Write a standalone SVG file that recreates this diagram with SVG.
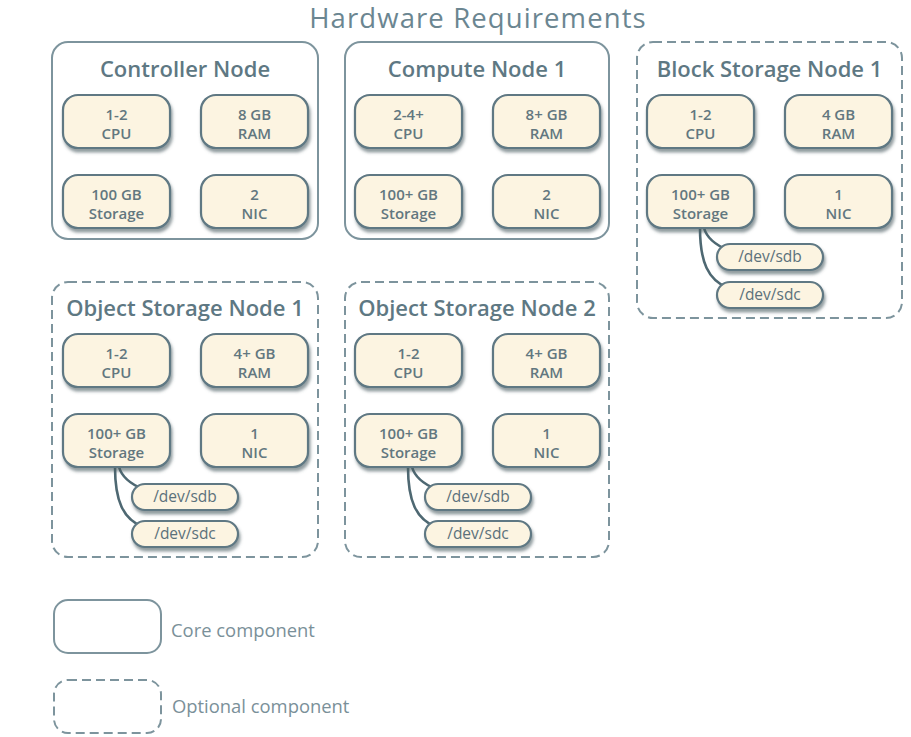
<svg xmlns="http://www.w3.org/2000/svg" width="911" height="737" viewBox="0 0 911 737">
<defs>
<filter id="sh" x="-20%" y="-20%" width="140%" height="160%">
<feDropShadow dx="1.5" dy="3.5" stdDeviation="1.8" flood-color="#4a5a60" flood-opacity="0.6"/>
</filter>
<style>
.core{fill:none;stroke:#7d949d;stroke-width:2}
.opt{fill:none;stroke:#7d949d;stroke-width:2;stroke-dasharray:9 5}
.box{fill:#fcf4e1;stroke:#5f7883;stroke-width:2.2;filter:url(#sh)}
.pill{fill:#fcf4e1;stroke:#5f7883;stroke-width:2.2;filter:url(#sh)}
.ttl{font-family:"Open Sans","Liberation Sans",sans-serif;font-size:22px;font-weight:600;fill:#5e7883;text-anchor:middle}
.lbl{font-family:"Open Sans","Liberation Sans",sans-serif;font-size:15px;font-weight:600;fill:#62777f;text-anchor:middle}
.dev{font-family:"Open Sans","Liberation Sans",sans-serif;font-size:15.5px;fill:#5b717b;text-anchor:middle}
.leg{font-family:"Open Sans","Liberation Sans",sans-serif;font-size:18.4px;fill:#7a9099}
.conn{fill:none;stroke:#4e6872;stroke-width:2.6}
</style>
</defs>
<rect width="911" height="737" fill="#ffffff"/>
<text x="478" y="28" font-family="'Open Sans','Liberation Sans',sans-serif" font-size="27.5" letter-spacing="1.1" fill="#6b8691" text-anchor="middle">Hardware Requirements</text>

<g id="connectors">
<path class="conn" d="M704 228 Q708 242 728 250"/>
<path class="conn" d="M700 228 C700 262 708 280 728 288"/>
<path class="conn" d="M119 467 Q123 481 143 489"/>
<path class="conn" d="M115 467 C115 501 123 519 143 527"/>
<path class="conn" d="M412 467 Q416 481 436 489"/>
<path class="conn" d="M408 467 C408 501 416 519 436 527"/>
</g>

<g id="controller">
<rect class="core" x="52" y="42" width="266" height="197" rx="16"/>
<text class="ttl" x="185" y="77">Controller Node</text>
<rect class="box" x="63" y="95" width="107" height="53" rx="15"/>
<text class="lbl" x="116.5" y="120">1-2</text><text class="lbl" x="116.5" y="139">CPU</text>
<rect class="box" x="201" y="95" width="107" height="53" rx="15"/>
<text class="lbl" x="254.5" y="120">8 GB</text><text class="lbl" x="254.5" y="139">RAM</text>
<rect class="box" x="63" y="175" width="107" height="53" rx="15"/>
<text class="lbl" x="116.5" y="200">100 GB</text><text class="lbl" x="116.5" y="219">Storage</text>
<rect class="box" x="201" y="175" width="107" height="53" rx="15"/>
<text class="lbl" x="254.5" y="200">2</text><text class="lbl" x="254.5" y="219">NIC</text>
</g>

<g id="compute1">
<rect class="core" x="345" y="42" width="264" height="197" rx="16"/>
<text class="ttl" x="477" y="77">Compute Node 1</text>
<rect class="box" x="355" y="95" width="107" height="53" rx="15"/>
<text class="lbl" x="408.5" y="120">2-4+</text><text class="lbl" x="408.5" y="139">CPU</text>
<rect class="box" x="493" y="95" width="107" height="53" rx="15"/>
<text class="lbl" x="546.5" y="120">8+ GB</text><text class="lbl" x="546.5" y="139">RAM</text>
<rect class="box" x="355" y="175" width="107" height="53" rx="15"/>
<text class="lbl" x="408.5" y="200">100+ GB</text><text class="lbl" x="408.5" y="219">Storage</text>
<rect class="box" x="493" y="175" width="107" height="53" rx="15"/>
<text class="lbl" x="546.5" y="200">2</text><text class="lbl" x="546.5" y="219">NIC</text>
</g>

<g id="block1">
<rect class="opt" x="637" y="42" width="265" height="276" rx="16"/>
<text class="ttl" x="769.5" y="77">Block Storage Node 1</text>
<rect class="box" x="647" y="95" width="107" height="53" rx="15"/>
<text class="lbl" x="700.5" y="120">1-2</text><text class="lbl" x="700.5" y="139">CPU</text>
<rect class="box" x="785" y="95" width="107" height="53" rx="15"/>
<text class="lbl" x="838.5" y="120">4 GB</text><text class="lbl" x="838.5" y="139">RAM</text>
<rect class="box" x="647" y="175" width="107" height="53" rx="15"/>
<text class="lbl" x="700.5" y="200">100+ GB</text><text class="lbl" x="700.5" y="219">Storage</text>
<rect class="box" x="785" y="175" width="107" height="53" rx="15"/>
<text class="lbl" x="838.5" y="200">1</text><text class="lbl" x="838.5" y="219">NIC</text>
<rect class="pill" x="717" y="244" width="106" height="26" rx="13"/>
<text class="dev" x="770" y="262">/dev/sdb</text>
<rect class="pill" x="717" y="282" width="106" height="26" rx="13"/>
<text class="dev" x="770" y="300">/dev/sdc</text>
</g>

<g id="object1">
<rect class="opt" x="52" y="282" width="266" height="275" rx="16"/>
<text class="ttl" x="185" y="316">Object Storage Node 1</text>
<rect class="box" x="63" y="334" width="107" height="53" rx="15"/>
<text class="lbl" x="116.5" y="359">1-2</text><text class="lbl" x="116.5" y="378">CPU</text>
<rect class="box" x="201" y="334" width="107" height="53" rx="15"/>
<text class="lbl" x="254.5" y="359">4+ GB</text><text class="lbl" x="254.5" y="378">RAM</text>
<rect class="box" x="63" y="414" width="107" height="53" rx="15"/>
<text class="lbl" x="116.5" y="439">100+ GB</text><text class="lbl" x="116.5" y="458">Storage</text>
<rect class="box" x="201" y="414" width="107" height="53" rx="15"/>
<text class="lbl" x="254.5" y="439">1</text><text class="lbl" x="254.5" y="458">NIC</text>
<rect class="pill" x="132" y="484" width="106" height="26" rx="13"/>
<text class="dev" x="185" y="502">/dev/sdb</text>
<rect class="pill" x="132" y="521" width="106" height="26" rx="13"/>
<text class="dev" x="185" y="539">/dev/sdc</text>
</g>

<g id="object2">
<rect class="opt" x="345" y="282" width="264" height="275" rx="16"/>
<text class="ttl" x="477" y="316">Object Storage Node 2</text>
<rect class="box" x="355" y="334" width="107" height="53" rx="15"/>
<text class="lbl" x="408.5" y="359">1-2</text><text class="lbl" x="408.5" y="378">CPU</text>
<rect class="box" x="493" y="334" width="107" height="53" rx="15"/>
<text class="lbl" x="546.5" y="359">4+ GB</text><text class="lbl" x="546.5" y="378">RAM</text>
<rect class="box" x="355" y="414" width="107" height="53" rx="15"/>
<text class="lbl" x="408.5" y="439">100+ GB</text><text class="lbl" x="408.5" y="458">Storage</text>
<rect class="box" x="493" y="414" width="107" height="53" rx="15"/>
<text class="lbl" x="546.5" y="439">1</text><text class="lbl" x="546.5" y="458">NIC</text>
<rect class="pill" x="425" y="484" width="106" height="26" rx="13"/>
<text class="dev" x="478" y="502">/dev/sdb</text>
<rect class="pill" x="425" y="521" width="106" height="26" rx="13"/>
<text class="dev" x="478" y="539">/dev/sdc</text>
</g>

<g id="legend-core">
<rect class="core" x="54" y="600" width="107" height="53" rx="14"/>
<text class="leg" x="171" y="637">Core component</text>
</g>
<g id="legend-optional">
<rect class="opt" x="54" y="680" width="107" height="53" rx="14"/>
<text class="leg" x="172" y="713">Optional component</text>
</g>
</svg>
